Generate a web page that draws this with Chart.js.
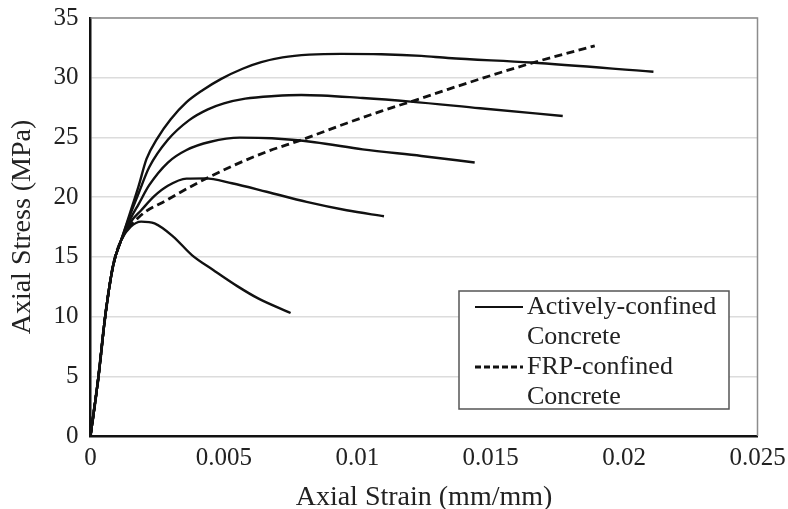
<!DOCTYPE html>
<html>
<head>
<meta charset="utf-8">
<script src="https://cdn.jsdelivr.net/npm/chart.js@4.4.1/dist/chart.umd.min.js"></script>
<style>
  html, body { margin: 0; padding: 0; background: #fff; }
  #grafico { display: block; }
</style>
</head>
<body>
<canvas id="grafico" width="788" height="509"></canvas>
<script>
// ticks
var xTicks = [0, 0.005, 0.01, 0.015, 0.02, 0.025];
var yTicks = [0, 5, 10, 15, 20, 25, 30, 35];

// shared ascending branch
var strainBase = [0, 0.0003, 0.00055, 0.00085, 0.00115];
var stressBase = [0, 5, 10, 14.3, 16.4];

// actively-confined curves
var strainA = [0.0015, 0.0019, 0.0024, 0.0031, 0.0038, 0.0046, 0.0055, 0.0063, 0.0075];
var stressA = [17.5, 17.95, 17.8, 16.7, 15.15, 13.9, 12.55, 11.5, 10.3];

var strainB = [0.0015, 0.0019, 0.0024, 0.0029, 0.0036, 0.0043, 0.0053, 0.0066, 0.0081, 0.0096, 0.011];
var stressB = [17.9, 18.9, 20.1, 20.95, 21.55, 21.57, 21.16, 20.45, 19.6, 18.9, 18.4];

var strainC = [0.0015, 0.0018, 0.0022, 0.0029, 0.0036, 0.0045, 0.0056, 0.0068, 0.0084, 0.0102, 0.0124, 0.0144];
var stressC = [18.2, 19.4, 21.0, 22.9, 23.95, 24.64, 24.98, 24.93, 24.6, 24.0, 23.45, 22.9];

var strainD = [0.0015, 0.0018, 0.0022, 0.0029, 0.0037, 0.0044, 0.005, 0.0058, 0.0069, 0.0079, 0.0102, 0.012, 0.0146, 0.0177];
var stressD = [18.6, 20.3, 22.5, 24.8, 26.45, 27.35, 27.85, 28.25, 28.47, 28.55, 28.3, 28.0, 27.44, 26.8];

var strainE = [0.0015, 0.0018, 0.0021, 0.0025, 0.003, 0.0036, 0.0042, 0.0049, 0.0057, 0.0064, 0.0072, 0.0082, 0.0094, 0.0109, 0.0124, 0.0134, 0.0165, 0.0211];
var stressE = [18.8, 20.9, 23.2, 24.9, 26.5, 27.95, 28.95, 29.9, 30.75, 31.3, 31.7, 31.93, 32.0, 31.97, 31.83, 31.65, 31.27, 30.5];

// FRP-confined curve
var strainFRP = [0.0018, 0.0029, 0.0041, 0.0054, 0.0066, 0.0079, 0.0096, 0.0109, 0.0124, 0.0134, 0.0165, 0.0189];
var stressFRP = [18.3, 19.8, 21.29, 22.69, 23.8, 24.79, 26.19, 27.2, 28.28, 29.03, 31.2, 32.67];

var legendLabels = [["Actively-confined", "Concrete"], ["FRP-confined", "Concrete"]];

function puntos(sx, sy) {
  var xs = strainBase.concat(sx), ys = stressBase.concat(sy);
  var out = [];
  for (var i in xs) out.push({ x: xs[i], y: ys[i] });
  return out;
}

function serieSolida(sx, sy) {
  return {
    data: puntos(sx, sy),
    borderColor: "#111",
    borderWidth: 2.4,
    pointRadius: 0,
    cubicInterpolationMode: "monotone",
    fill: false
  };
}

var datasets = [
  serieSolida(strainA, stressA),
  serieSolida(strainB, stressB),
  serieSolida(strainC, stressC),
  serieSolida(strainD, stressD),
  serieSolida(strainE, stressE),
  {
    data: puntos(strainFRP, stressFRP),
    borderColor: "#111",
    borderWidth: 2.8,
    borderDash: [8, 4.5],
    pointRadius: 0,
    cubicInterpolationMode: "monotone",
    fill: false
  }
];

var serif = "'Liberation Serif', 'DejaVu Serif', serif";

// top/right frame of the plot area
var marco = {
  id: "marco",
  beforeDatasetsDraw: function(chart) {
    var a = chart.chartArea, ctx = chart.ctx;
    ctx.save();
    ctx.strokeStyle = "#8c8c8c";
    ctx.lineWidth = 1.5;
    ctx.beginPath();
    ctx.moveTo(a.left, a.top);
    ctx.lineTo(a.right, a.top);
    ctx.lineTo(a.right, a.bottom);
    ctx.stroke();
    ctx.restore();
  }
};

// two-line legend box inside the plot
var leyenda = {
  id: "leyenda",
  afterDatasetsDraw: function(chart) {
    var a = chart.chartArea, ctx = chart.ctx;
    var bx = a.left + 368.5, by = a.top + 273, bw = 270, bh = 118;
    ctx.save();
    ctx.fillStyle = "#fff";
    ctx.fillRect(bx, by, bw, bh);
    ctx.strokeStyle = "#555";
    ctx.lineWidth = 1.5;
    ctx.strokeRect(bx, by, bw, bh);

    ctx.strokeStyle = "#111";
    var rowH = 30;
    for (var i = 0; i < legendLabels.length; i++) {
      var y0 = by + 16 + i * 2 * rowH;
      ctx.beginPath();
      ctx.lineWidth = i === 0 ? 2.2 : 2.8;
      ctx.setLineDash(i === 0 ? [] : [6, 3]);
      ctx.moveTo(bx + 16, y0);
      ctx.lineTo(bx + 64, y0);
      ctx.stroke();
      ctx.setLineDash([]);
      ctx.fillStyle = "#222";
      ctx.font = "26px " + serif;
      ctx.textBaseline = "middle";
      for (var j = 0; j < legendLabels[i].length; j++) {
        ctx.fillText(legendLabels[i][j], bx + 68, y0 + j * rowH);
      }
    }
    ctx.restore();
  }
};

var ctx = document.getElementById("grafico");
var grafico = new Chart(ctx, {
  type: "line",
  data: { datasets: datasets },
  plugins: [marco, leyenda],
  options: {
    responsive: false,
    animation: false,
    layout: { padding: { left: 0, top: 18, right: 30.5, bottom: 0 } },
    plugins: { legend: { display: false }, tooltip: { enabled: false } },
    scales: {
      x: {
        type: "linear",
        min: 0,
        max: 0.025,
        afterBuildTicks: function(s) { s.ticks = xTicks.map(function(v) { return { value: v }; }); },
        afterFit: function(s) { s.height = 73; s.paddingLeft = 0; s.paddingRight = 0; },
        grid: { display: false, drawTicks: false },
        border: { display: true, color: "#111", width: 2.5 },
        ticks: {
          padding: 7,
          color: "#222",
          font: { family: serif, size: 25 },
          maxRotation: 0,
          callback: function(v) { return String(+v.toFixed(3)); }
        },
        title: {
          display: true,
          text: "Axial Strain (mm/mm)",
          color: "#222",
          font: { family: serif, size: 28, lineHeight: 1 },
          padding: { top: 0, bottom: -3 }
        }
      },
      y: {
        type: "linear",
        min: 0,
        max: 35,
        afterBuildTicks: function(s) { s.ticks = yTicks.map(function(v) { return { value: v }; }); },
        afterFit: function(s) { s.width = 90.5; s.paddingTop = 0; s.paddingBottom = 0; },
        grid: { color: "#dcdcdc", lineWidth: 1.5, drawTicks: false },
        border: { display: true, color: "#111", width: 2.5 },
        ticks: {
          padding: 12,
          color: "#222",
          font: { family: serif, size: 25 },
          callback: function(v) { return String(v); }
        },
        title: {
          display: true,
          text: "Axial Stress (MPa)",
          color: "#222",
          font: { family: serif, size: 28, lineHeight: 1 },
          padding: { top: 8.5, bottom: 0 }
        }
      }
    }
  }
});
</script>
</body>
</html>
